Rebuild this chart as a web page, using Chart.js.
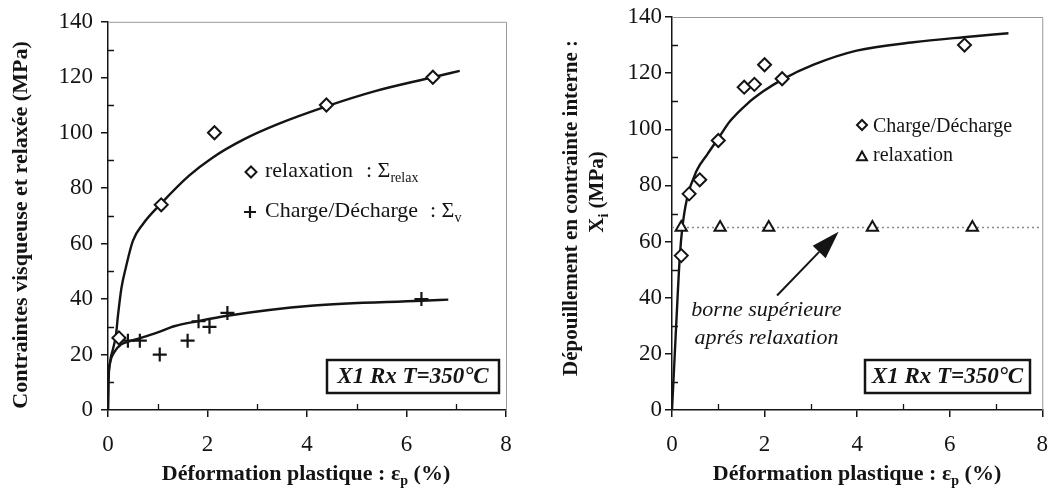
<!DOCTYPE html>
<html>
<head>
<meta charset="utf-8">
<script src="https://cdn.jsdelivr.net/npm/chart.js@4/dist/chart.umd.min.js"></script>
<style>
  html, body { margin: 0; padding: 0; background: #fff; }
  #wrap { position: relative; width: 1062px; height: 490px; background: #fff; }
  .pane { position: absolute; top: 0; width: 531px; height: 490px; }
</style>
</head>
<body>
<div id="wrap">
  <div class="pane" style="left:0"><canvas id="c1" width="531" height="490"></canvas></div>
  <div class="pane" style="left:531px"><canvas id="c2" width="531" height="490"></canvas></div>
</div>
<script>
// ---------------- DATA ----------------
// Left chart: Contraintes visqueuse et relaxée
const leftRelaxX = [0.22, 1.07, 2.14, 4.39, 6.53];
const leftRelaxY = [26, 74, 100, 110, 120];
const leftChargeX = [0.22, 0.40, 0.64, 1.04, 1.60, 1.82, 2.04, 2.40, 6.30];
const leftChargeY = [26, 25, 25, 20, 25, 32, 30, 35, 40];
const leftRelaxFitX = [0, 0.01, 0.04, 0.10, 0.16, 0.20, 0.27, 0.36, 0.50, 0.70, 1.07, 1.63, 2.10, 2.72, 3.40, 4.39, 5.37, 6.53, 7.07];
const leftRelaxFitY = [0, 10, 17, 22, 27, 34, 44, 51.5, 61, 67, 74.5, 84.5, 91, 97.5, 103, 109.5, 115, 120, 122.3];
const leftChargeFitX = [0, 0.005, 0.04, 0.12, 0.26, 0.40, 0.66, 1.00, 1.33, 1.80, 2.40, 4.08, 6.30, 6.84];
const leftChargeFitY = [0, 9, 17, 20.7, 23.6, 24.6, 26, 28, 30.2, 32, 34, 37.6, 39.4, 39.8];
const leftLegendLabels = ['relaxation', 'Charge/Décharge'];

// Right chart: Dépouillement en contrainte interne
const rightChargeX = [0.20, 0.37, 0.60, 1.00, 1.56, 1.78, 2.00, 2.38, 6.32];
const rightChargeY = [55, 77, 82, 96, 115, 116, 123, 118, 130];
const rightRelaxX = [0.20, 1.04, 2.09, 4.33, 6.49];
const rightRelaxY = [65, 65, 65, 65, 65];
const rightFitX = [0, 0.06, 0.12, 0.17, 0.22, 0.32, 0.54, 0.76, 1.01, 1.26, 1.62, 1.98, 2.38, 3.06, 3.99, 5.22, 6.30, 7.27];
const rightFitY = [0, 20, 40, 55, 64.5, 75, 85.5, 91, 97, 103, 109, 113.6, 117.7, 123, 128, 131, 132.8, 134.2];
const rightBoundX = [0, 8];
const rightBoundY = [65, 65];
const rightLegendLabels = ['Charge/Décharge', 'relaxation'];
const rightArrowFrom = [2.27, 40.8];
const rightArrowTo = [3.60, 63.5];
const rightNoteLines = ['borne supérieure', 'aprés relaxation'];
const rightNoteX = 2.04;
const rightNoteY = [35.6, 25.6];

// Axes
const xMin = 0, xMax = 8, xStep = 2;
const yMin = 0, yMax = 140, yStep = 20;
const xMinorTicks = [1, 3, 5, 7];
const yMinorTicks = [10, 30, 50, 70, 90, 110, 130];
const boxLabel = 'X1 Rx T=350°C';

// ---------------- STYLE ----------------
const FONT = 'Liberation Serif';
const INK = '#141414';
const FRAME = '#9a9a9a';

function pts(xs, ys) { return xs.map((x, i) => ({ x: x, y: ys[i] })); }

function drawRich(ctx, x, y, parts, align) {
  let w = 0;
  parts.forEach(p => { ctx.font = p.font; p.w = ctx.measureText(p.t).width; w += p.w; });
  let cx = align === 'center' ? x - w / 2 : (align === 'right' ? x - w : x);
  ctx.textAlign = 'left';
  ctx.textBaseline = 'alphabetic';
  parts.forEach(p => { ctx.font = p.font; ctx.fillText(p.t, cx, y + (p.dy || 0)); cx += p.w; });
  return w;
}
function mDiamond(ctx, x, y, r) {
  ctx.beginPath(); ctx.moveTo(x, y - r); ctx.lineTo(x + r, y); ctx.lineTo(x, y + r); ctx.lineTo(x - r, y); ctx.closePath();
  ctx.fillStyle = '#fff'; ctx.fill(); ctx.stroke();
}
function mPlus(ctx, x, y, r) {
  ctx.beginPath(); ctx.moveTo(x - r, y); ctx.lineTo(x + r, y); ctx.moveTo(x, y - r); ctx.lineTo(x, y + r); ctx.stroke();
}
function mTriangle(ctx, x, y, r) {
  ctx.beginPath(); ctx.moveTo(x, y - r); ctx.lineTo(x + r * 0.9, y + r * 0.6); ctx.lineTo(x - r * 0.9, y + r * 0.6); ctx.closePath();
  ctx.fillStyle = '#fff'; ctx.fill(); ctx.stroke();
}

function axesDecor(chart) {
  const ctx = chart.ctx, ca = chart.chartArea, xs = chart.scales.x, ys = chart.scales.y;
  ctx.save();
  ctx.strokeStyle = FRAME; ctx.lineWidth = 1;
  ctx.beginPath();
  ctx.moveTo(ca.left, ca.top + 0.5); ctx.lineTo(ca.right + 0.5, ca.top + 0.5); ctx.lineTo(ca.right + 0.5, ca.bottom);
  ctx.stroke();
  ctx.strokeStyle = INK; ctx.lineWidth = 1.3;
  ctx.beginPath();
  yMinorTicks.forEach(v => { const py = Math.round(ys.getPixelForValue(v)) + 0.5; ctx.moveTo(ca.left, py); ctx.lineTo(ca.left + 6, py); });
  xMinorTicks.forEach(v => { const px = Math.round(xs.getPixelForValue(v)) + 0.5; ctx.moveTo(px, ca.bottom); ctx.lineTo(px, ca.bottom - 6); });
  ctx.stroke();
  ctx.restore();
}

function drawBox(ctx, l, t, r, b, fontSize) {
  ctx.save();
  ctx.fillStyle = '#fff';
  ctx.fillRect(l, t, r - l, b - t);
  ctx.strokeStyle = INK; ctx.lineWidth = 2.5;
  ctx.strokeRect(l, t, r - l, b - t);
  ctx.fillStyle = INK;
  ctx.font = 'bold italic ' + fontSize + 'px ' + FONT;
  ctx.textAlign = 'center'; ctx.textBaseline = 'middle';
  ctx.fillText(boxLabel, (l + r) / 2, (t + b) / 2 + 1);
  ctx.restore();
}

function xTitle(ctx, cx) {
  ctx.fillStyle = INK;
  drawRich(ctx, cx, 480, [
    { t: 'Déformation plastique : ε', font: 'bold 22px ' + FONT },
    { t: 'p', font: 'bold 14px ' + FONT, dy: 5 },
    { t: ' (%)', font: 'bold 22px ' + FONT }
  ], 'center');
}

function baseOptions(cfg) {
  const tickFont = { family: FONT, size: 23 };
  return {
    responsive: false,
    animation: false,
    devicePixelRatio: 1,
    layout: { padding: { left: 0, right: cfg.padRight, top: 17, bottom: 0 } },
    plugins: { legend: { display: false }, tooltip: { enabled: false } },
    scales: {
      x: {
        type: 'linear', min: xMin, max: xMax,
        afterFit: s => { s.height = 80; },
        ticks: { stepSize: xStep, font: tickFont, color: INK, padding: 14, maxRotation: 0 },
        grid: { drawOnChartArea: false, tickLength: 7, color: INK, lineWidth: 1.5 },
        border: { color: INK, width: 1.5 }
      },
      y: {
        type: 'linear', min: yMin, max: yMax,
        afterFit: s => { s.width = cfg.yWidth; },
        ticks: { stepSize: yStep, font: tickFont, color: INK, padding: cfg.yPad },
        grid: { drawOnChartArea: false, tickLength: 7, color: INK, lineWidth: 1.5 },
        border: { color: INK, width: 1.5 }
      }
    }
  };
}

// ---------------- LEFT CHART ----------------
const leftDecor = {
  id: 'leftDecor',
  afterDraw(chart) {
    const ctx = chart.ctx;
    axesDecor(chart);
    ctx.save();
    ctx.fillStyle = INK;
    ctx.save();
    ctx.translate(27, 225);
    ctx.rotate(-Math.PI / 2);
    drawRich(ctx, 0, 0, [{ t: 'Contraintes visqueuse et relaxée (MPa)', font: 'bold 22px ' + FONT }], 'center');
    ctx.restore();
    xTitle(ctx, 306);
    ctx.strokeStyle = INK; ctx.lineWidth = 2;
    mDiamond(ctx, 251, 172, 5.5);
    ctx.lineWidth = 2.2;
    mPlus(ctx, 250, 212, 6);
    ctx.fillStyle = INK;
    const lf = '22px ' + FONT;
    drawRich(ctx, 265, 177, [{ t: leftLegendLabels[0], font: lf }]);
    drawRich(ctx, 366, 177, [{ t: ': Σ', font: lf }, { t: 'relax', font: '14px ' + FONT, dy: 5 }]);
    drawRich(ctx, 265, 217, [{ t: leftLegendLabels[1], font: lf }]);
    drawRich(ctx, 430, 217, [{ t: ': Σ', font: lf }, { t: 'v', font: '14px ' + FONT, dy: 5 }]);
    drawBox(ctx, 327, 360, 499, 393, 23);
    ctx.restore();
  }
};

new Chart(document.getElementById('c1'), {
  type: 'scatter',
  data: {
    datasets: [
      { label: 'relaxation', data: pts(leftRelaxX, leftRelaxY), pointStyle: 'rectRot', pointRadius: 6.5,
        borderColor: INK, backgroundColor: '#fff', pointBorderWidth: 2 },
      { label: 'Charge/Décharge', data: pts(leftChargeX, leftChargeY), pointStyle: 'cross', pointRadius: 7,
        borderColor: INK, backgroundColor: INK, pointBorderWidth: 2.2 },
      { label: 'fit relax', data: pts(leftRelaxFitX, leftRelaxFitY), showLine: true, pointRadius: 0,
        borderColor: INK, borderWidth: 2.4, cubicInterpolationMode: 'monotone', fill: false },
      { label: 'fit charge', data: pts(leftChargeFitX, leftChargeFitY), showLine: true, pointRadius: 0,
        borderColor: INK, borderWidth: 2.4, cubicInterpolationMode: 'monotone', fill: false }
    ]
  },
  options: baseOptions({ padRight: 25, yWidth: 108, yPad: 8 }),
  plugins: [leftDecor]
});

// ---------------- RIGHT CHART ----------------
const rightDecor = {
  id: 'rightDecor',
  afterDraw(chart) {
    const ctx = chart.ctx, xs = chart.scales.x, ys = chart.scales.y;
    axesDecor(chart);
    ctx.save();
    ctx.fillStyle = INK;
    ctx.save();
    ctx.translate(46, 208);
    ctx.rotate(-Math.PI / 2);
    drawRich(ctx, 0, 0, [{ t: 'Dépouillement en contrainte interne :', font: 'bold 21px ' + FONT }], 'center');
    ctx.restore();
    ctx.save();
    ctx.translate(72, 192);
    ctx.rotate(-Math.PI / 2);
    drawRich(ctx, 0, 0, [
      { t: 'X', font: 'bold 21px ' + FONT },
      { t: 'i', font: 'bold 14px ' + FONT, dy: 5 },
      { t: ' (MPa)', font: 'bold 21px ' + FONT }
    ], 'center');
    ctx.restore();
    xTitle(ctx, 326);
    ctx.strokeStyle = INK; ctx.lineWidth = 2;
    mDiamond(ctx, 331, 125, 5);
    mTriangle(ctx, 331, 157, 5.5);
    ctx.fillStyle = INK;
    drawRich(ctx, 342, 132, [{ t: rightLegendLabels[0], font: '20px ' + FONT }]);
    drawRich(ctx, 342, 161, [{ t: rightLegendLabels[1], font: '20px ' + FONT }]);
    // arrow
    const x0 = xs.getPixelForValue(rightArrowFrom[0]), y0 = ys.getPixelForValue(rightArrowFrom[1]);
    const x1 = xs.getPixelForValue(rightArrowTo[0]), y1 = ys.getPixelForValue(rightArrowTo[1]);
    const ang = Math.atan2(y1 - y0, x1 - x0);
    const hl = 28, hw = 9;
    const bx = x1 - hl * Math.cos(ang), by = y1 - hl * Math.sin(ang);
    ctx.strokeStyle = INK; ctx.lineWidth = 2;
    ctx.beginPath(); ctx.moveTo(x0, y0); ctx.lineTo(bx, by); ctx.stroke();
    ctx.beginPath();
    ctx.moveTo(x1, y1);
    ctx.lineTo(bx + hw * Math.sin(ang), by - hw * Math.cos(ang));
    ctx.lineTo(bx - hw * Math.sin(ang), by + hw * Math.cos(ang));
    ctx.closePath(); ctx.fill();
    // note
    ctx.font = 'italic 22px ' + FONT;
    ctx.textAlign = 'center'; ctx.textBaseline = 'middle';
    rightNoteLines.forEach((t, i) => {
      ctx.fillText(t, xs.getPixelForValue(rightNoteX), ys.getPixelForValue(rightNoteY[i]));
    });
    drawBox(ctx, 334, 360, 499, 393, 23);
    ctx.restore();
  }
};

new Chart(document.getElementById('c2'), {
  type: 'scatter',
  data: {
    datasets: [
      { label: 'Charge/Décharge', data: pts(rightChargeX, rightChargeY), pointStyle: 'rectRot', pointRadius: 6.5,
        borderColor: INK, backgroundColor: '#fff', pointBorderWidth: 2 },
      { label: 'relaxation', data: pts(rightRelaxX, rightRelaxY), pointStyle: 'triangle', pointRadius: 6.5,
        borderColor: INK, backgroundColor: '#fff', pointBorderWidth: 2 },
      { label: 'fit', data: pts(rightFitX, rightFitY), showLine: true, pointRadius: 0,
        borderColor: INK, borderWidth: 2.4, cubicInterpolationMode: 'monotone', fill: false },
      { label: 'borne', data: pts(rightBoundX, rightBoundY), showLine: true, pointRadius: 0,
        borderColor: '#8a8a8a', borderWidth: 1.5, borderDash: [2, 3], fill: false }
    ]
  },
  options: baseOptions({ padRight: 17, yWidth: 141, yPad: 3 }),
  plugins: [rightDecor]
});
</script>
</body>
</html>
